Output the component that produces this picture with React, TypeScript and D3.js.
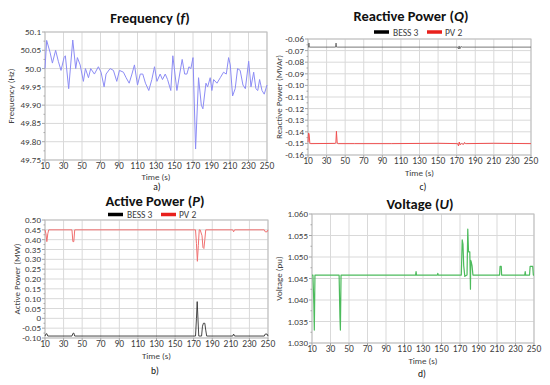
import React from "react";
import * as d3 from "d3";

// shared x axis
const timeTicks = [10, 30, 50, 70, 90, 110, 130, 150, 170, 190, 210, 230, 250];

// a) frequency
const freqTime = [10, 11.8, 15.4, 18, 21.5, 24.4, 27.3, 30.6, 32, 35.6, 40, 43.2, 45, 48, 51.5, 53.7, 57, 59.4, 63.4, 67.7, 70.6, 73.9, 76, 80.4, 84, 87.6, 90.5, 94.8, 97.7, 101, 104, 106.7, 110, 113, 115.7, 118.6, 122.2, 125.5, 128.4, 131, 134.5, 137, 140, 142.5, 146, 148.2, 152.6, 158.3, 161, 163.4, 165.6, 167.7, 170, 172.8, 176, 179, 180.7, 184, 185.8, 188.6, 190.4, 192.3, 195.9, 199.5, 203, 206, 208.5, 210.3, 212.8, 215.6, 218.2, 221, 224, 226.6, 230.2, 232.7, 235.6, 238, 240, 242, 244.6, 247, 250];
const freqHz = [50.0, 50.077, 50.045, 50.015, 50.05, 50.02, 49.995, 50.03, 50.035, 49.945, 50.078, 50.0, 50.03, 50.01, 49.965, 50.0, 49.975, 50.0, 49.985, 50.005, 49.99, 49.95, 49.985, 50.0, 49.995, 49.965, 49.995, 49.99, 49.975, 49.96, 49.985, 50.01, 49.955, 49.985, 49.985, 49.96, 49.94, 49.97, 50.005, 49.965, 49.985, 49.97, 49.985, 49.97, 49.94, 50.035, 49.94, 50.025, 49.985, 49.985, 50.005, 50.0, 50.03, 49.78, 49.975, 49.9, 49.89, 49.96, 49.95, 49.975, 49.94, 49.97, 49.96, 49.975, 49.99, 49.985, 50.03, 50.01, 49.925, 49.945, 50.0, 49.995, 49.955, 49.945, 50.02, 49.95, 49.99, 49.945, 49.94, 49.97, 49.94, 49.93, 49.955];
const freqTicks = [50.1, 50.05, 50.0, 49.95, 49.9, 49.85, 49.8, 49.75];
const freqTickLabels = ["50.1", "50.05", "50.0", "49.95", "49.90", "49.85", "49.80", "49.75"];

// c) reactive power
const qBessTime = [10, 10.6, 11, 11.4, 12, 39, 39.6, 40.2, 40.8, 41.5, 171, 172, 172.6, 173.4, 174.5, 176, 250];
const qBess = [-0.067, -0.067, -0.0635, -0.067, -0.067, -0.067, -0.067, -0.0635, -0.067, -0.067, -0.067, -0.0685, -0.066, -0.0685, -0.0665, -0.067, -0.067];
const qPvTime = [10, 10.6, 11.2, 12, 13, 39, 40, 40.6, 41.4, 42.5, 60, 100, 150, 171, 172, 172.8, 173.6, 175, 177.5, 178.5, 179.5, 181, 210, 250];
const qPv = [-0.149, -0.141, -0.142, -0.15, -0.1502, -0.15, -0.1495, -0.1395, -0.1498, -0.1502, -0.1502, -0.1502, -0.1499, -0.1502, -0.1522, -0.1488, -0.1512, -0.1502, -0.1508, -0.1492, -0.1502, -0.1502, -0.1499, -0.1502];
const qTicks = [-0.06, -0.07, -0.08, -0.09, -0.1, -0.11, -0.12, -0.13, -0.14, -0.15, -0.16];
const qTickLabels = ["-0.06", "-0.07", "-0.08", "-0.09", "-0.10", "-0.11", "-0.12", "-0.13", "-0.14", "-0.15", "-0.16"];

// b) active power
const pBessTime = [10, 11, 12, 13, 39, 40, 41, 42, 172, 173, 173.8, 174.6, 175.5, 178.5, 179.5, 180.5, 182, 183, 184, 212, 213, 214, 246, 247, 249, 250];
const pBess = [-0.09, -0.08, -0.078, -0.09, -0.09, -0.077, -0.075, -0.09, -0.09, 0.0, 0.085, 0.0, -0.09, -0.09, -0.04, -0.025, -0.025, -0.06, -0.09, -0.09, -0.08, -0.09, -0.09, -0.08, -0.08, -0.09];
const pPvTime = [10, 11, 12, 13, 14, 39, 40, 41, 42, 172, 173, 174, 175, 176, 177, 179, 180, 181, 182, 183, 212, 213, 214, 246, 247, 249, 250];
const pPv = [0.45, 0.43, 0.39, 0.43, 0.45, 0.45, 0.39, 0.39, 0.45, 0.45, 0.38, 0.29, 0.37, 0.45, 0.45, 0.42, 0.36, 0.355, 0.4, 0.45, 0.45, 0.44, 0.45, 0.45, 0.44, 0.44, 0.45];
const pTicks = [0.5, 0.45, 0.4, 0.35, 0.3, 0.25, 0.2, 0.15, 0.1, 0.05, 0, -0.05, -0.1];
const pTickLabels = ["0.50", "0.45", "0.40", "0.35", "0.30", "0.25", "0.20", "0.15", "0.10", "0.05", "0", "-0.05", "-0.10"];

// d) voltage
const uTime = [10, 11, 12, 12.5, 13.2, 39.3, 40.2, 40.7, 41.4, 122, 122.5, 123, 145.5, 146, 146.5, 171.4, 172.4, 173.2, 174, 175.2, 177.6, 178.4, 179.2, 180.6, 181.3, 181.6, 182, 183, 184, 212.8, 213.3, 214.6, 215, 240, 240.5, 241, 245.2, 245.8, 248.6, 249.3, 250];
const uPu = [1.0458, 1.0458, 1.039, 1.033, 1.0458, 1.0458, 1.036, 1.033, 1.0458, 1.0458, 1.0466, 1.0458, 1.0458, 1.0462, 1.0458, 1.0458, 1.054, 1.053, 1.048, 1.0455, 1.0458, 1.0565, 1.0512, 1.0512, 1.0425, 1.0492, 1.049, 1.048, 1.0458, 1.0458, 1.0478, 1.0478, 1.0458, 1.0458, 1.0466, 1.0458, 1.0458, 1.0478, 1.0478, 1.0458, 1.0458];
const uTicks = [1.06, 1.055, 1.05, 1.045, 1.04, 1.035, 1.03];
const uTickLabels = ["1.060", "1.055", "1.050", "1.045", "1.040", "1.035", "1.030"];

const font = "Carlito, Lato, 'Liberation Sans', sans-serif";
const textColor = "#404040";
const gridColor = "#d9d9d9";

type Series = { t: number[]; v: number[]; color: string; width: number };

type PanelProps = {
  left: number; right: number; top: number; bottom: number;
  yDomain: [number, number];
  yTicks: number[]; yTickLabels: string[];
  yLabel: string; yLabelX: number;
  title: string; titleVar: string; titleX: number; titleY: number;
  sub: string; subX: number; subY: number;
  xTitleY: number;
  series: Series[];
  legend?: { x: number; y: number };
};

function Panel(p: PanelProps) {
  const x = d3.scaleLinear().domain([10, 250]).range([p.left, p.right]);
  const y = d3.scaleLinear().domain(p.yDomain).range([p.bottom, p.top]);
  const line = d3.line<[number, number]>().x((d) => x(d[0])).y((d) => y(d[1]));
  const step = p.yTicks.length > 1 ? Math.abs(p.yTicks[0] - p.yTicks[1]) : 0;
  const minor = p.yTicks.slice(0, -1).map((v) => v - step / 2);
  const cx = (p.left + p.right) / 2;

  return (
    <g fontFamily={font}>
      <text x={p.titleX} y={p.titleY} textAnchor="middle" fontSize={14.5} fontWeight="bold" fill="#111">
        {p.title} (<tspan fontStyle="italic">{p.titleVar}</tspan>)
      </text>
      {p.legend && (
        <g fontSize={9.5} fill={textColor}>
          <line x1={p.legend.x} x2={p.legend.x + 15} y1={p.legend.y} y2={p.legend.y} stroke="#000" strokeWidth={3.5} />
          <text x={p.legend.x + 19} y={p.legend.y + 3.5}>BESS 3</text>
          <line x1={p.legend.x + 53} x2={p.legend.x + 68} y1={p.legend.y} y2={p.legend.y} stroke="#e8201c" strokeWidth={3.5} />
          <text x={p.legend.x + 71} y={p.legend.y + 3.5}>PV 2</text>
        </g>
      )}
      {p.yTicks.map((v) => (
        <line key={"h" + v} x1={p.left} x2={p.right} y1={y(v)} y2={y(v)} stroke={gridColor} strokeWidth={1} />
      ))}
      {timeTicks.map((t) => (
        <line key={"v" + t} x1={x(t)} x2={x(t)} y1={p.top} y2={p.bottom} stroke={gridColor} strokeWidth={1} />
      ))}
      <rect x={p.left} y={p.top} width={p.right - p.left} height={p.bottom - p.top} fill="none" stroke="#bfbfbf" />
      {p.yTicks.map((v) => (
        <line key={"yt" + v} x1={p.left - 3} x2={p.left} y1={y(v)} y2={y(v)} stroke="#a6a6a6" />
      ))}
      {minor.map((v) => (
        <line key={"ym" + v} x1={p.left - 1.5} x2={p.left} y1={y(v)} y2={y(v)} stroke="#a6a6a6" />
      ))}
      {timeTicks.map((t) => (
        <line key={"xt" + t} x1={x(t)} x2={x(t)} y1={p.bottom} y2={p.bottom + 3} stroke="#a6a6a6" />
      ))}
      <g fontSize={9} fill={textColor}>
        {p.yTicks.map((v, i) => (
          <text key={"yl" + v} x={p.left - 4} y={y(v) + 3} textAnchor="end">{p.yTickLabels[i]}</text>
        ))}
      </g>
      <g fontSize={9.5} fill={textColor}>
        {timeTicks.map((t) => (
          <text key={"xl" + t} x={x(t)} y={p.bottom + 9} textAnchor="middle">{t}</text>
        ))}
      </g>
      <text x={cx} y={p.xTitleY} textAnchor="middle" fontSize={9} fill={textColor}>Time (s)</text>
      <text
        transform={`translate(${p.yLabelX},${(p.top + p.bottom) / 2}) rotate(-90)`}
        textAnchor="middle" fontSize={9} fill={textColor}
      >
        {p.yLabel}
      </text>
      {p.series.map((s, i) => (
        <path
          key={"s" + i}
          d={line(s.t.map((t, j) => [t, s.v[j]] as [number, number])) || ""}
          fill="none" stroke={s.color} strokeWidth={s.width} strokeLinejoin="round"
        />
      ))}
      <text x={p.subX} y={p.subY} textAnchor="middle" fontSize={9.5} fill="#111">{p.sub}</text>
    </g>
  );
}

export default function App() {
  return (
    <svg width={550} height={385} style={{ position: "absolute", left: 0, top: 0, background: "#fff" }}>
      <Panel
        left={45} right={267} top={32} bottom={160}
        yDomain={[49.75, 50.1]} yTicks={freqTicks} yTickLabels={freqTickLabels}
        yLabel="Frequency (Hz)" yLabelX={14}
        title="Frequency" titleVar="f" titleX={150} titleY={23}
        sub="a)" subX={157} subY={189.5}
        xTitleY={180}
        series={[{ t: freqTime, v: freqHz, color: "#8c8cf5", width: 1 }]}
      />
      <Panel
        left={308} right={531} top={39} bottom={155}
        yDomain={[-0.16, -0.06]} yTicks={qTicks} yTickLabels={qTickLabels}
        yLabel="Reactive Power (MVAr)" yLabelX={282}
        title="Reactive Power" titleVar="Q" titleX={411} titleY={21}
        sub="c)" subX={423} subY={190}
        xTitleY={176}
        legend={{ x: 374, y: 32 }}
        series={[
          { t: qBessTime, v: qBess, color: "#555", width: 0.8 },
          { t: qPvTime, v: qPv, color: "#f05050", width: 1 },
        ]}
      />
      <Panel
        left={45} right={268} top={220} bottom={338}
        yDomain={[-0.1, 0.5]} yTicks={pTicks} yTickLabels={pTickLabels}
        yLabel="Active Power (MW)" yLabelX={20}
        title="Active Power" titleVar="P" titleX={155} titleY={206}
        sub="b)" subX={155} subY={374}
        xTitleY={359}
        legend={{ x: 108, y: 214.5 }}
        series={[
          { t: pBessTime, v: pBess, color: "#333", width: 0.9 },
          { t: pPvTime, v: pPv, color: "#f07070", width: 1 },
        ]}
      />
      <Panel
        left={312} right={534} top={214} bottom={343}
        yDomain={[1.03, 1.06]} yTicks={uTicks} yTickLabels={uTickLabels}
        yLabel="Voltage (pu)" yLabelX={282}
        title="Voltage" titleVar="U" titleX={420} titleY={209}
        sub="d)" subX={422} subY={377}
        xTitleY={364}
        series={[{ t: uTime, v: uPu, color: "#4cbb5c", width: 1.2 }]}
      />
    </svg>
  );
}
